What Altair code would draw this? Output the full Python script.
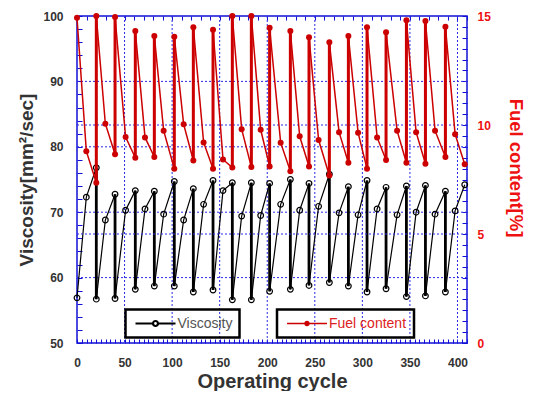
import altair as alt
import pandas as pd

# ---------------- data ----------------
x_cycle = [0, 9.8, 20.3, 29.8, 40.0, 51.1, 61.3, 71.5, 81.3, 91.1,
           102.3, 112.1, 122.3, 133.1, 143.0, 153.5, 163.3, 173.1, 183.3, 193.1,
           202.5, 214.1, 224.3, 234.1, 243.9, 254.0, 265.3, 275.5, 285.3, 295.5,
           304.9, 315.5, 324.9, 336.5, 346.3, 356.5, 366.3, 376.4, 387.3, 397.5,
           407.6]
visc_val = [56.9, 72.3, 76.8, 68.8, 72.75, 70.3, 73.3, 70.5, 73.2, 69.7,
            74.7, 68.8, 73.6, 71.2, 74.85, 73.3, 74.5, 69.4, 74.5, 69.5,
            74.4, 71.2, 75.0, 70.3, 74.4, 70.9, 75.8, 69.9, 73.9, 69.6,
            74.85, 70.5, 73.8, 69.6, 74.0, 70.0, 74.1, 69.7, 73.2, 70.2,
            74.2]
fuel_val = [14.92, 8.8, 7.35, 10.06, 8.66, 9.45, 8.5, 9.43, 8.53, 9.74,
            7.99, 10.04, 8.37, 9.2, 7.99, 8.42, 8.05, 9.81, 8.07, 9.78,
            8.1, 9.19, 7.88, 9.48, 8.1, 9.31, 7.68, 9.67, 8.27, 9.65,
            7.99, 9.43, 8.39, 9.74, 8.27, 9.67, 8.22, 9.74, 8.53, 9.58,
            8.2]
# cycles where oil is renewed: value right after the renewal
reset_x = [20.3, 40.0, 61.3, 81.3, 102.3, 122.3, 143.0, 163.3, 183.3, 202.5,
           224.3, 243.9, 265.3, 285.3, 304.9, 324.9, 346.3, 366.3, 387.3]
visc_after = [56.7, 56.8, 58.2, 58.7, 58.7, 57.8, 58.1, 56.6, 56.6, 57.9,
              58.2, 58.8, 59.25, 58.7, 57.8, 58.3, 57.1, 57.2, 57.8]
fuel_after = [15.0, 14.95, 14.31, 14.08, 14.05, 14.48, 14.37, 15.0, 15.0, 14.46,
              14.31, 14.03, 13.8, 14.08, 14.48, 14.25, 14.8, 14.77, 14.51]

series_names = ["Viscosity", "Fuel content"]

# axis ticks / grid values
x_tick_vals = list(range(0, 411, 5))
x_top_tick_vals = list(range(0, 411, 10))
x_grid_vals = list(range(50, 401, 50))
visc_tick_vals = list(range(50, 101, 2))
visc_grid_vals = [60, 70, 80, 90]
fuel_tick_vals = [k / 2 for k in range(0, 31)]
fuel_grid_vals = [5, 10]

# ---------------- styles ----------------
FONT = "Liberation Sans"
BLUE = "#1010d8"
GRID = "#2a2ae6"
RED = "#cc0000"
RED_TXT = "#ee1111"
DARK = "#333333"

# ---------------- tables ----------------
va = dict(zip(reset_x, visc_after))
fa = dict(zip(reset_x, fuel_after))
rows = []
for x, v, f in zip(x_cycle, visc_val, fuel_val):
    rows.append({"x": x, "v": v, "f": f})
    if x in va:
        rows.append({"x": x, "v": va[x], "f": fa[x]})
seq = pd.DataFrame(rows)
seq["i"] = range(len(seq))
seq["sv"] = series_names[0]
seq["sf"] = series_names[1]

before_idx = [x_cycle.index(x) for x in reset_x]
jumps = pd.DataFrame({
    "x": reset_x,
    "v": [visc_val[k] for k in before_idx],
    "v2": visc_after,
    "f": [fuel_val[k] for k in before_idx],
    "f2": fuel_after,
})
gx = pd.DataFrame({"x": x_grid_vals})
gv = pd.DataFrame({"v": visc_grid_vals})
gf = pd.DataFrame({"f": fuel_grid_vals})

# ---------------- scales & axes ----------------
x_scale = alt.Scale(domain=[0, 410], nice=False, zero=False)
v_scale = alt.Scale(domain=[50, 100], nice=False, zero=False)
f_scale = alt.Scale(domain=[0, 15], nice=False, zero=False)

common = dict(domain=False, grid=False, tickColor=BLUE, tickWidth=1,
              labelFont=FONT, labelFontWeight="bold", labelFontSize=12,
              labelFlush=False, labelOverlap=False,
              titleFont=FONT, titleFontWeight="bold")

x_axis_bottom = alt.Axis(orient="bottom", values=x_tick_vals,
                         labelExpr="datum.value % 50 == 0 ? datum.label : ''",
                         tickSize=4, offset=-4, labelPadding=14, labelColor=DARK,
                         title="Operating cycle", titleFontSize=20,
                         titleColor=DARK, titlePadding=3, **common)
x_axis_top = alt.Axis(orient="top", values=x_top_tick_vals, labels=False,
                      tickSize=4, offset=-4, domain=False, grid=False,
                      tickColor=BLUE, tickWidth=1)
v_axis = alt.Axis(orient="left", values=visc_tick_vals,
                  labelExpr="datum.value % 10 == 0 ? datum.label : ''",
                  tickSize=5, offset=-5, labelPadding=14, labelColor=DARK,
                  title="Viscosity[mm²/sec]", titleFontSize=19,
                  titleColor=DARK, titlePadding=6, **common)
f_axis = alt.Axis(orient="right", values=fuel_tick_vals,
                  labelExpr="datum.value % 5 == 0 ? format(datum.value, 'd') : ''",
                  tickSize=5, offset=-5, labelPadding=10, labelColor=RED_TXT,
                  title="Fuel content[%]", titleFontSize=18.5,
                  titleColor=RED_TXT, titlePadding=15, titleY=151.5, **common)

Xb = alt.X("x:Q", scale=x_scale, axis=x_axis_bottom)
Xt = alt.X("x:Q", scale=x_scale, axis=x_axis_top, title=None)
Yv = alt.Y("v:Q", scale=v_scale, axis=v_axis)
Yf = alt.Y("f:Q", scale=f_scale, axis=f_axis)

VPATH = "M-4,0H-0.5M0.5,0H4M-0.5,0A0.5,0.5 0 1 1 0.5,0A0.5,0.5 0 1 1 -0.5,0"
FPATH = ("M-4,-0.14H4V0.14H-4Z"
         "M-0.56,0A0.56,0.56 0 1 1 0.56,0A0.56,0.56 0 1 1 -0.56,0Z")

leg_common = dict(orient="none", legendY=293.5, title=None, symbolSize=100,
                  symbolOffset=16, labelOffset=15, labelFont=FONT,
                  labelFontSize=14, strokeColor="black", padding=7)
visc_legend = alt.Legend(legendX=48.5, symbolType=VPATH, symbolStrokeWidth=2.2,
                         labelColor="#555555", **leg_common)
fuel_legend = alt.Legend(legendX=200, symbolType=FPATH, symbolStrokeWidth=0,
                         labelColor="#dd2222", **leg_common)

dash = [2, 2]

# ---------------- viscosity layers ----------------
v_gridx = alt.Chart(gx).mark_rule(color=GRID, strokeDash=dash, strokeWidth=1).encode(x=Xb)
v_gridy = alt.Chart(gv).mark_rule(color=GRID, strokeDash=dash, strokeWidth=1).encode(y=Yv)
v_line = alt.Chart(seq).mark_line(color="black", strokeWidth=1.2).encode(
    x=Xb, y=Yv, order=alt.Order("i:Q"))
v_jump = alt.Chart(jumps).mark_rule(color="black", strokeWidth=2.8).encode(
    x=Xb, y=Yv, y2="v2:Q")
v_pts = alt.Chart(seq).mark_point(shape="circle", filled=False, color="black",
                                  size=32, strokeWidth=1.2, opacity=1).encode(x=Xb, y=Yv)
v_leg = alt.Chart(seq).mark_line(strokeWidth=2.2).encode(
    x=Xb, y=Yv,
    color=alt.Color("sv:N", scale=alt.Scale(domain=[series_names[0]], range=["black"]),
                    legend=visc_legend)
).transform_filter("false")
visc = alt.layer(v_gridx, v_gridy, v_line, v_jump, v_pts, v_leg)

# ---------------- fuel layers ----------------
f_gridy = alt.Chart(gf).mark_rule(color=GRID, strokeDash=dash, strokeWidth=1).encode(y=Yf)
f_line = alt.Chart(seq).mark_line(color=RED, strokeWidth=1.5).encode(
    x=Xt, y=Yf, order=alt.Order("i:Q"))
f_jump = alt.Chart(jumps).mark_rule(color=RED, strokeWidth=3).encode(
    x=Xt, y=Yf, y2="f2:Q")
f_pts = alt.Chart(seq).mark_circle(size=36, opacity=1).encode(
    x=Xt, y=Yf,
    color=alt.Color("sf:N", scale=alt.Scale(domain=[series_names[1]], range=[RED]),
                    legend=fuel_legend))
fuel = alt.layer(f_gridy, f_line, f_jump, f_pts)

chart = (
    alt.layer(visc, fuel)
    .resolve_scale(x="independent", y="independent", color="independent")
    .properties(width=390, height=327,
                autosize=alt.AutoSizeParams(type="none"),
                padding={"left": 69, "top": 8, "right": 59, "bottom": 48})
    .configure_view(stroke=BLUE, strokeWidth=1.5)
    .configure_legend(strokeWidth=2.5)
)

chart.save("out.html", embed_options={"renderer": "svg", "actions": False})
